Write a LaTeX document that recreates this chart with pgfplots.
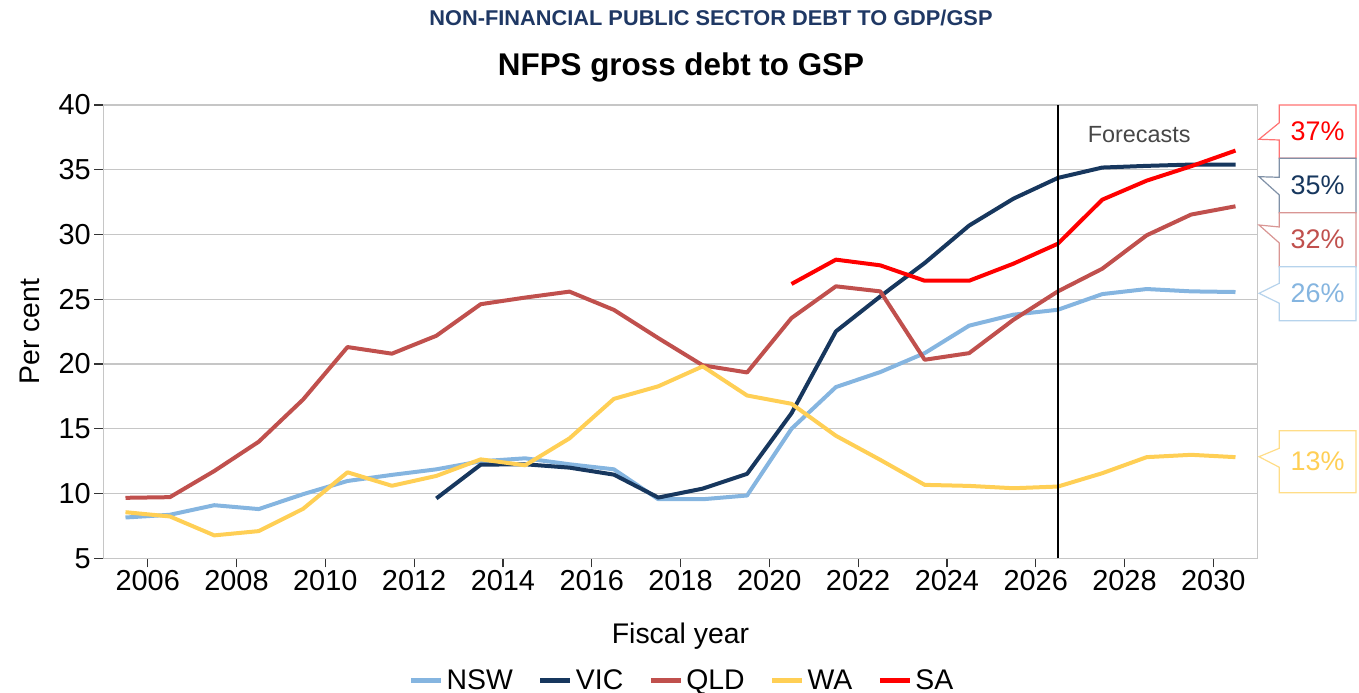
\documentclass[border=0pt]{standalone}
\usepackage{fontspec}
\setmainfont{Liberation Sans}
\usepackage{pgfplots}
\pgfplotsset{compat=1.18}
\definecolor{nsw}{HTML}{85B5E0}
\definecolor{vic}{HTML}{17375E}
\definecolor{qld}{HTML}{C0504D}
\definecolor{wa}{HTML}{FFCF55}
\definecolor{sa}{HTML}{FF0000}
\definecolor{titleblue}{HTML}{1F3864}
\begin{document}
\begin{tikzpicture}
\begin{axis}[
  at={(103.3bp,134.7bp)}, anchor=south west,
  scale only axis, width=1154.4bp, height=453.3bp,
  xmin=2005, xmax=2031, ymin=5, ymax=40,
  xtick={2006,2008,...,2030}, ytick={5,10,...,40},
  xtick pos=bottom, ytick pos=left,
  tick align=outside, major tick length=9bp,
  every tick/.style={black!80, line width=1.2bp},
  axis line style={draw=gray!45, line width=1.5bp},
  ymajorgrids, grid style={gray!45, line width=1.2bp},
  /pgf/number format/assume math mode=true,
  /pgf/number format/1000 sep={},
  every tick label/.append style={font=\fontsize{29}{31}\selectfont},
  xlabel={Fiscal year}, ylabel={Per cent},
  xlabel style={font=\fontsize{28.5}{30}\selectfont, at={(axis description cs:0.5,-0.1714)}, anchor=center},
  ylabel style={font=\fontsize{28.5}{30}\selectfont, at={(axis description cs:-0.0635,0.5)}, anchor=center, rotate=0},
  legend columns=-1,
  legend style={draw=none, fill=none, at={(0.5017,-0.2685)}, anchor=center,
    font=\fontsize{28.5}{30}\selectfont,
    /tikz/every even column/.append style={column sep=22bp},
    /tikz/every odd column/.append style={column sep=0bp},
    nodes={inner sep=3bp}},
  legend image code/.code={\draw[#1, line width=5bp] (0bp,0bp) -- (30bp,0bp);},
  every axis plot/.append style={line width=4bp, line join=round},
  clip=false,
]
\addplot[nsw, no marks] coordinates {
(2005.5,8.15) (2006.5,8.36) (2007.5,9.1) (2008.5,8.8) (2009.5,9.95) (2010.5,10.97)
(2011.5,11.44) (2012.5,11.87) (2013.5,12.49) (2014.5,12.72) (2015.5,12.26) (2016.5,11.87)
(2017.5,9.56) (2018.5,9.56) (2019.5,9.85) (2020.5,15.0) (2021.5,18.22) (2022.5,19.38)
(2023.5,20.84) (2024.5,22.96) (2025.5,23.81) (2026.5,24.19) (2027.5,25.4) (2028.5,25.79)
(2029.5,25.61) (2030.5,25.56)};
\addlegendentry{NSW}
\addplot[vic, no marks] coordinates {
(2012.5,9.62) (2013.5,12.23) (2014.5,12.26) (2015.5,12.0) (2016.5,11.46) (2017.5,9.69)
(2018.5,10.38) (2019.5,11.52) (2020.5,16.2) (2021.5,22.52) (2022.5,25.22) (2023.5,27.8)
(2024.5,30.69) (2025.5,32.77) (2026.5,34.37) (2027.5,35.17) (2028.5,35.3) (2029.5,35.4)
(2030.5,35.4)};
\addlegendentry{VIC}
\addplot[qld, no marks] coordinates {
(2005.5,9.67) (2006.5,9.72) (2007.5,11.74) (2008.5,14.0) (2009.5,17.26) (2010.5,21.31)
(2011.5,20.8) (2012.5,22.18) (2013.5,24.62) (2014.5,25.13) (2015.5,25.59) (2016.5,24.18)
(2017.5,22.0) (2018.5,19.9) (2019.5,19.35) (2020.5,23.55) (2021.5,26.0) (2022.5,25.61)
(2023.5,20.33) (2024.5,20.84) (2025.5,23.42) (2026.5,25.61) (2027.5,27.36) (2028.5,29.94)
(2029.5,31.54) (2030.5,32.18)};
\addlegendentry{QLD}
\addplot[wa, no marks] coordinates {
(2005.5,8.56) (2006.5,8.23) (2007.5,6.77) (2008.5,7.1) (2009.5,8.82) (2010.5,11.64)
(2011.5,10.6) (2012.5,11.36) (2013.5,12.64) (2014.5,12.18) (2015.5,14.26) (2016.5,17.31)
(2017.5,18.28) (2018.5,19.82) (2019.5,17.57) (2020.5,16.93) (2021.5,14.46) (2022.5,12.6)
(2023.5,10.67) (2024.5,10.59) (2025.5,10.41) (2026.5,10.54) (2027.5,11.57) (2028.5,12.81)
(2029.5,12.99) (2030.5,12.81)};
\addlegendentry{WA}
\addplot[sa, no marks] coordinates {
(2020.5,26.18) (2021.5,28.06) (2022.5,27.62) (2023.5,26.43) (2024.5,26.43) (2025.5,27.75)
(2026.5,29.29) (2027.5,32.69) (2028.5,34.16) (2029.5,35.27) (2030.5,36.48)};
\addlegendentry{SA}
\addplot[black, line width=2bp, no marks, forget plot] coordinates {(2026.5,5) (2026.5,40)};
\node[text=black!72, font=\fontsize{23.5}{26}\selectfont] at (axis cs:2028.33,37.69) {Forecasts};
\end{axis}
% titles
\node[text=titleblue] at (711bp,675bp) {\resizebox{563bp}{15.5bp}{\bfseries NON-FINANCIAL PUBLIC SECTOR DEBT TO GDP/GSP}};
\node[font=\bfseries\fontsize{31.5}{33}\selectfont] at (681bp,626bp) {NFPS gross debt to GSP};
% callouts (image y -> 693 - y)
\newcommand{\callout}[7]{% #1 top, #2 bottom, #3 upper ptr, #4 tip, #5 lower ptr, #6 border, #7 text+color
  \draw[#6, line width=1.2bp, fill=white] (1279.3bp,693bp-#1bp) -- (1356bp,693bp-#1bp) -- (1356bp,693bp-#2bp) -- (1279.3bp,693bp-#2bp) -- (1279.3bp,693bp-#5bp) -- (1259bp,693bp-#4bp) -- (1279.3bp,693bp-#3bp) -- cycle;
  \node[font=\fontsize{27}{29}\selectfont] at (1317.6bp,693bp-#1bp/2-#2bp/2) {#7};}
\callout{105}{158.3}{122.7}{139.3}{140}{sa!55}{\textcolor{sa}{37\%}}
\callout{158.3}{212.7}{177.3}{176.7}{195}{vic!55}{\textcolor{vic}{35\%}}
\callout{212.7}{266.7}{227}{225}{243}{qld!60}{\textcolor{qld}{32\%}}
\callout{266.7}{320.7}{283.3}{293.3}{303.3}{nsw!60}{\textcolor{nsw}{26\%}}
\callout{430.7}{492.7}{448.3}{456.7}{467.3}{wa!70}{\textcolor{wa}{13\%}}
\pgfresetboundingbox
\path[use as bounding box] (0bp,0bp) rectangle (1359bp,693bp);
\end{tikzpicture}
\end{document}
